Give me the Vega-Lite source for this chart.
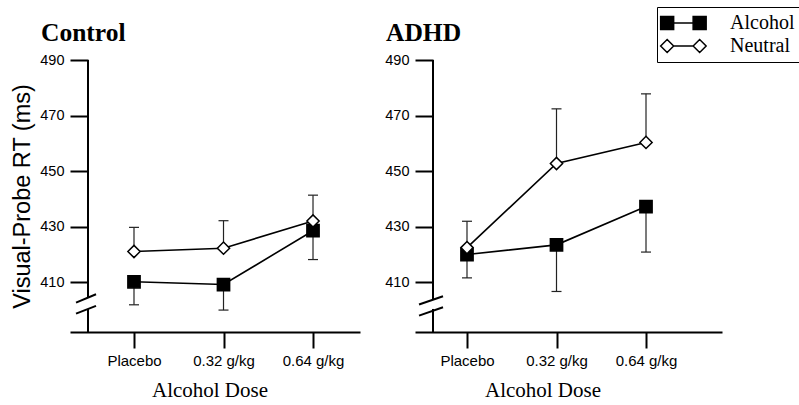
{
  "$schema": "https://vega.github.io/schema/vega-lite/v6.json",
  "background": "white",
  "padding": {"left": 10, "top": 6, "right": 0, "bottom": 0},
  "spacing": 24,
  "config": {
    "view": {"stroke": null},
    "axis": {"domainColor": "black", "tickColor": "black", "labelColor": "black", "titleColor": "black", "grid": false, "labelFont": "Liberation Sans", "labelFontSize": 14.5, "domainWidth": 2, "tickWidth": 2},
    "axisX": {"tickSize": 16, "labelPadding": 5, "labelFontSize": 15, "titlePadding": 11, "titleFont": "Liberation Serif", "titleFontSize": 21, "titleFontWeight": "normal", "labelFlush": false, "labelOverlap": false},
    "axisY": {"offset": -18, "domain": false, "tickSize": 18, "labelPadding": 6, "titleFont": "Liberation Sans", "titleFontSize": 23.5, "titleFontWeight": "normal", "titlePadding": 5},
    "title": {"font": "Liberation Serif", "fontSize": 25.5, "fontWeight": "bold", "anchor": "start", "frame": "group", "dx": -29, "offset": 6, "baseline": "alphabetic", "color": "black"},
    "legend": {"orient": "none", "legendX": 587, "legendY": -53, "padding": 6, "strokeColor": "black", "labelFont": "Liberation Serif", "labelFontSize": 20, "labelColor": "black", "symbolSize": 169, "symbolOpacity": 1, "labelOffset": 47, "rowPadding": 3, "labelLimit": 200}
  },
  "datasets": {
    "means": [
      {"group": "Control", "cue": "Alcohol", "dose": 0, "rt": 410.1, "err_end": 401.8},
      {"group": "Control", "cue": "Alcohol", "dose": 0.32, "rt": 409.1, "err_end": 399.9},
      {"group": "Control", "cue": "Alcohol", "dose": 0.64, "rt": 428.5, "err_end": 418.1},
      {"group": "ADHD", "cue": "Alcohol", "dose": 0, "rt": 419.9, "err_end": 411.5},
      {"group": "ADHD", "cue": "Alcohol", "dose": 0.32, "rt": 423.4, "err_end": 406.6},
      {"group": "ADHD", "cue": "Alcohol", "dose": 0.64, "rt": 437.2, "err_end": 420.8},
      {"group": "Control", "cue": "Neutral", "dose": 0, "rt": 421.0, "err_end": 429.7},
      {"group": "Control", "cue": "Neutral", "dose": 0.32, "rt": 422.2, "err_end": 432.1},
      {"group": "Control", "cue": "Neutral", "dose": 0.64, "rt": 432.0, "err_end": 441.3},
      {"group": "ADHD", "cue": "Neutral", "dose": 0, "rt": 422.4, "err_end": 431.9},
      {"group": "ADHD", "cue": "Neutral", "dose": 0.32, "rt": 452.7, "err_end": 472.4},
      {"group": "ADHD", "cue": "Neutral", "dose": 0.64, "rt": 460.3, "err_end": 477.8}
    ],
    "guides": [
      {"group": "Control", "part": "axis", "x": -0.1644, "y": 392, "y2": 400.3},
      {"group": "Control", "part": "axis", "x": -0.1644, "y": 404.3, "y2": 490},
      {"group": "Control", "part": "slash", "x": -0.2073, "x2": -0.1358, "y": 402.6, "y2": 405.6},
      {"group": "Control", "part": "slash", "x": -0.2073, "x2": -0.1358, "y": 398.6, "y2": 401.4},
      {"group": "ADHD", "part": "axis", "x": -0.1215, "y": 392, "y2": 400.3},
      {"group": "ADHD", "part": "axis", "x": -0.1215, "y": 403.8, "y2": 490},
      {"group": "ADHD", "part": "slash", "x": -0.1715, "x2": -0.0857, "y": 401.9, "y2": 404.9},
      {"group": "ADHD", "part": "slash", "x": -0.1715, "x2": -0.0857, "y": 397.9, "y2": 400.9}
    ]
  },
  "hconcat": [
    {
      "width": 290,
      "height": 272,
      "title": {"text": "Control"},
      "layer": [
        {
          "data": {"name": "means"},
          "transform": [{"filter": "datum.group === 'Control'"}],
          "mark": {"type": "line", "color": "black", "strokeWidth": 1.6},
          "encoding": {
            "x": {"field": "dose", "type": "quantitative", "scale": {"domain": [-0.2288, 0.808], "nice": false, "zero": false}, "axis": {"values": [0, 0.32, 0.64], "labelExpr": "datum.value === 0 ? 'Placebo' : format(datum.value, '.2f') + ' g/kg'", "title": "Alcohol Dose", "titleX": 139.5}},
            "y": {"field": "rt", "type": "quantitative", "scale": {"domain": [392, 490], "nice": false, "zero": false}, "axis": {"values": [410, 430, 450, 470, 490], "title": "Visual-Probe RT (ms)"}},
            "detail": {"field": "cue"}
          }
        },
        {
          "data": {"name": "guides"},
          "transform": [{"filter": "datum.group === 'Control' && datum.part === 'axis'"}],
          "mark": {"type": "rule", "color": "black", "strokeWidth": 2},
          "encoding": {
            "x": {"field": "x", "type": "quantitative", "scale": {"domain": [-0.2288, 0.808], "nice": false, "zero": false}, "axis": {"values": [0, 0.32, 0.64], "labelExpr": "datum.value === 0 ? 'Placebo' : format(datum.value, '.2f') + ' g/kg'", "title": "Alcohol Dose", "titleX": 139.5}},
            "y": {"field": "y", "type": "quantitative", "scale": {"domain": [392, 490], "nice": false, "zero": false}, "axis": {"values": [410, 430, 450, 470, 490], "title": "Visual-Probe RT (ms)"}},
            "y2": {"field": "y2"}
          }
        },
        {
          "data": {"name": "guides"},
          "transform": [{"filter": "datum.group === 'Control' && datum.part === 'slash'"}],
          "mark": {"type": "rule", "color": "black", "strokeWidth": 2},
          "encoding": {
            "x": {"field": "x", "type": "quantitative", "scale": {"domain": [-0.2288, 0.808], "nice": false, "zero": false}, "axis": {"values": [0, 0.32, 0.64], "labelExpr": "datum.value === 0 ? 'Placebo' : format(datum.value, '.2f') + ' g/kg'", "title": "Alcohol Dose", "titleX": 139.5}},
            "x2": {"field": "x2"},
            "y": {"field": "y", "type": "quantitative", "scale": {"domain": [392, 490], "nice": false, "zero": false}, "axis": {"values": [410, 430, 450, 470, 490], "title": "Visual-Probe RT (ms)"}},
            "y2": {"field": "y2"}
          }
        },
        {
          "data": {"name": "means"},
          "transform": [{"filter": "datum.group === 'Control'"}],
          "mark": {"type": "rule", "color": "#222", "strokeWidth": 1.2},
          "encoding": {
            "x": {"field": "dose", "type": "quantitative", "scale": {"domain": [-0.2288, 0.808], "nice": false, "zero": false}, "axis": {"values": [0, 0.32, 0.64], "labelExpr": "datum.value === 0 ? 'Placebo' : format(datum.value, '.2f') + ' g/kg'", "title": "Alcohol Dose", "titleX": 139.5}},
            "y": {"field": "rt", "type": "quantitative", "scale": {"domain": [392, 490], "nice": false, "zero": false}, "axis": {"values": [410, 430, 450, 470, 490], "title": "Visual-Probe RT (ms)"}},
            "y2": {"field": "err_end"}
          }
        },
        {
          "data": {"name": "means"},
          "transform": [{"filter": "datum.group === 'Control'"}],
          "mark": {"type": "tick", "orient": "horizontal", "color": "#222", "size": 10, "thickness": 1.2, "opacity": 1},
          "encoding": {
            "x": {"field": "dose", "type": "quantitative", "scale": {"domain": [-0.2288, 0.808], "nice": false, "zero": false}, "axis": {"values": [0, 0.32, 0.64], "labelExpr": "datum.value === 0 ? 'Placebo' : format(datum.value, '.2f') + ' g/kg'", "title": "Alcohol Dose", "titleX": 139.5}},
            "y": {"field": "err_end", "type": "quantitative", "scale": {"domain": [392, 490], "nice": false, "zero": false}, "axis": {"values": [410, 430, 450, 470, 490], "title": "Visual-Probe RT (ms)"}}
          }
        },
        {
          "data": {"name": "means"},
          "transform": [{"filter": "datum.group === 'Control'"}],
          "mark": {"type": "point", "filled": true, "size": 150, "stroke": "black", "strokeWidth": 1.5, "opacity": 1},
          "encoding": {
            "x": {"field": "dose", "type": "quantitative", "scale": {"domain": [-0.2288, 0.808], "nice": false, "zero": false}, "axis": {"values": [0, 0.32, 0.64], "labelExpr": "datum.value === 0 ? 'Placebo' : format(datum.value, '.2f') + ' g/kg'", "title": "Alcohol Dose", "titleX": 139.5}},
            "y": {"field": "rt", "type": "quantitative", "scale": {"domain": [392, 490], "nice": false, "zero": false}, "axis": {"values": [410, 430, 450, 470, 490], "title": "Visual-Probe RT (ms)"}},
            "shape": {"condition": {"test": "datum.cue === 'Alcohol'", "value": "square"}, "value": "diamond"},
            "fill": {"condition": {"test": "datum.cue === 'Alcohol'", "value": "black"}, "value": "white"}
          }
        }
      ]
    },
    {
      "width": 307,
      "height": 272,
      "title": {"text": "ADHD"},
      "layer": [
        {
          "data": {"name": "means"},
          "transform": [{"filter": "datum.group === 'ADHD'"}],
          "mark": {"type": "line", "color": "black", "strokeWidth": 1.6},
          "encoding": {
            "x": {"field": "dose", "type": "quantitative", "scale": {"domain": [-0.1859, 0.9117], "nice": false, "zero": false}, "axis": {"values": [0, 0.32, 0.64], "labelExpr": "datum.value === 0 ? 'Placebo' : format(datum.value, '.2f') + ' g/kg'", "title": "Alcohol Dose", "titleX": 127.5}},
            "y": {"field": "rt", "type": "quantitative", "scale": {"domain": [392, 490], "nice": false, "zero": false}, "axis": {"values": [410, 430, 450, 470, 490], "title": null}},
            "detail": {"field": "cue"}
          }
        },
        {
          "data": {"name": "guides"},
          "transform": [{"filter": "datum.group === 'ADHD' && datum.part === 'axis'"}],
          "mark": {"type": "rule", "color": "black", "strokeWidth": 2},
          "encoding": {
            "x": {"field": "x", "type": "quantitative", "scale": {"domain": [-0.1859, 0.9117], "nice": false, "zero": false}, "axis": {"values": [0, 0.32, 0.64], "labelExpr": "datum.value === 0 ? 'Placebo' : format(datum.value, '.2f') + ' g/kg'", "title": "Alcohol Dose", "titleX": 127.5}},
            "y": {"field": "y", "type": "quantitative", "scale": {"domain": [392, 490], "nice": false, "zero": false}, "axis": {"values": [410, 430, 450, 470, 490], "title": null}},
            "y2": {"field": "y2"}
          }
        },
        {
          "data": {"name": "guides"},
          "transform": [{"filter": "datum.group === 'ADHD' && datum.part === 'slash'"}],
          "mark": {"type": "rule", "color": "black", "strokeWidth": 2},
          "encoding": {
            "x": {"field": "x", "type": "quantitative", "scale": {"domain": [-0.1859, 0.9117], "nice": false, "zero": false}, "axis": {"values": [0, 0.32, 0.64], "labelExpr": "datum.value === 0 ? 'Placebo' : format(datum.value, '.2f') + ' g/kg'", "title": "Alcohol Dose", "titleX": 127.5}},
            "x2": {"field": "x2"},
            "y": {"field": "y", "type": "quantitative", "scale": {"domain": [392, 490], "nice": false, "zero": false}, "axis": {"values": [410, 430, 450, 470, 490], "title": null}},
            "y2": {"field": "y2"}
          }
        },
        {
          "data": {"name": "means"},
          "transform": [{"filter": "datum.group === 'ADHD'"}],
          "mark": {"type": "rule", "color": "#222", "strokeWidth": 1.2},
          "encoding": {
            "x": {"field": "dose", "type": "quantitative", "scale": {"domain": [-0.1859, 0.9117], "nice": false, "zero": false}, "axis": {"values": [0, 0.32, 0.64], "labelExpr": "datum.value === 0 ? 'Placebo' : format(datum.value, '.2f') + ' g/kg'", "title": "Alcohol Dose", "titleX": 127.5}},
            "y": {"field": "rt", "type": "quantitative", "scale": {"domain": [392, 490], "nice": false, "zero": false}, "axis": {"values": [410, 430, 450, 470, 490], "title": null}},
            "y2": {"field": "err_end"}
          }
        },
        {
          "data": {"name": "means"},
          "transform": [{"filter": "datum.group === 'ADHD'"}],
          "mark": {"type": "tick", "orient": "horizontal", "color": "#222", "size": 10, "thickness": 1.2, "opacity": 1},
          "encoding": {
            "x": {"field": "dose", "type": "quantitative", "scale": {"domain": [-0.1859, 0.9117], "nice": false, "zero": false}, "axis": {"values": [0, 0.32, 0.64], "labelExpr": "datum.value === 0 ? 'Placebo' : format(datum.value, '.2f') + ' g/kg'", "title": "Alcohol Dose", "titleX": 127.5}},
            "y": {"field": "err_end", "type": "quantitative", "scale": {"domain": [392, 490], "nice": false, "zero": false}, "axis": {"values": [410, 430, 450, 470, 490], "title": null}}
          }
        },
        {
          "data": {"name": "means"},
          "transform": [{"filter": "datum.group === 'ADHD'"}],
          "mark": {"type": "point", "filled": true, "size": 150, "stroke": "black", "strokeWidth": 1.5, "opacity": 1},
          "encoding": {
            "x": {"field": "dose", "type": "quantitative", "scale": {"domain": [-0.1859, 0.9117], "nice": false, "zero": false}, "axis": {"values": [0, 0.32, 0.64], "labelExpr": "datum.value === 0 ? 'Placebo' : format(datum.value, '.2f') + ' g/kg'", "title": "Alcohol Dose", "titleX": 127.5}},
            "y": {"field": "rt", "type": "quantitative", "scale": {"domain": [392, 490], "nice": false, "zero": false}, "axis": {"values": [410, 430, 450, 470, 490], "title": null}},
            "shape": {"condition": {"test": "datum.cue === 'Alcohol'", "value": "square"}, "value": "diamond"},
            "fill": {"condition": {"test": "datum.cue === 'Alcohol'", "value": "black"}, "value": "white"}
          }
        },
        {
          "data": {"name": "means"},
          "transform": [{"filter": "datum.group === 'ADHD'"}],
          "mark": {"type": "point", "filled": true, "stroke": "black", "strokeWidth": 1.5, "opacity": 0},
          "encoding": {
            "x": {"field": "dose", "type": "quantitative", "scale": {"domain": [-0.1859, 0.9117], "nice": false, "zero": false}, "axis": {"values": [0, 0.32, 0.64], "labelExpr": "datum.value === 0 ? 'Placebo' : format(datum.value, '.2f') + ' g/kg'", "title": "Alcohol Dose", "titleX": 127.5}},
            "y": {"field": "rt", "type": "quantitative", "scale": {"domain": [392, 490], "nice": false, "zero": false}, "axis": {"values": [410, 430, 450, 470, 490], "title": null}},
            "shape": {"field": "cue", "type": "nominal", "scale": {"domain": ["Alcohol", "Neutral"], "range": ["M-1.9,-1H0.1V1H-1.9Z M3.1,-1H5.1V1H3.1Z M0.1,0H3.1", "M-0.9,-1L0.1,0L-0.9,1L-1.9,0Z M4.1,-1L5.1,0L4.1,1L3.1,0Z M0.1,0H3.1"]},
              "legend": {"title": null, "encode": {"symbols": {"stroke": {"value": "black"}, "strokeWidth": {"value": 1.5}, "opacity": {"value": 1}}}}},
            "fill": {"field": "cue", "type": "nominal", "scale": {"domain": ["Alcohol", "Neutral"], "range": ["black", "white"]},
              "legend": {"title": null, "encode": {"symbols": {"stroke": {"value": "black"}, "strokeWidth": {"value": 1.5}, "opacity": {"value": 1}}}}}
          }
        }
      ]
    }
  ],
  "resolve": {"scale": {"x": "independent"}}
}
